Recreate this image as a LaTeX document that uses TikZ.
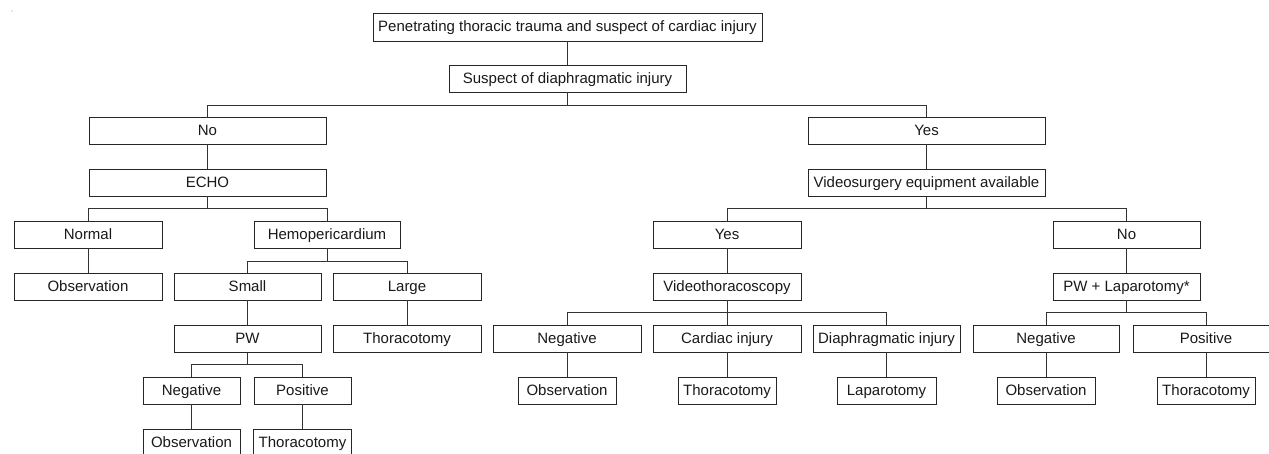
\documentclass[tikz,border=0pt]{standalone}
\usepackage{fontspec}
\setmainfont{Liberation Sans}
\begin{document}
\begin{tikzpicture}[x=1pt,y=-1pt,
  box/.style={draw=black!85, line width=0.9pt, inner sep=0pt, minimum height=27pt,
    text height=12pt, text depth=2.6pt,
    font=\fontsize{15}{18}\selectfont, text=black!90},
  link/.style={draw=black!80, line width=0.9pt}]
\useasboundingbox (0,0) rectangle (1269,453);
\fill[black!40] (12,11) circle (0.7);
% top
\node[box, minimum width=389pt, minimum height=28pt] (top) at (567.5,27) {Penetrating thoracic trauma and suspect of cardiac injury};
\node[box, minimum width=237pt] (susp) at (567.5,78.5) {Suspect of diaphragmatic injury};
\node[box, minimum width=237pt] (no) at (207.5,130.5) {No};
\node[box, minimum width=237pt] (yes) at (926.5,130.5) {Yes};
\node[box, minimum width=237pt] (echo) at (207.5,182.5) {ECHO};
\node[box, minimum width=237pt] (vea) at (926.5,183) {Videosurgery equipment available};
% left branch
\node[box, minimum width=148pt] (normal) at (88,234.5) {Normal};
\node[box, minimum width=146pt] (hemo) at (327,234.5) {Hemopericardium};
\node[box, minimum width=148pt] (obs1) at (88,286.5) {Observation};
\node[box, minimum width=147pt] (small) at (247.5,286.5) {Small};
\node[box, minimum width=148pt] (large) at (407,286.5) {Large};
\node[box, minimum width=147pt] (pw) at (247.5,339) {PW};
\node[box, minimum width=148pt] (thor1) at (407,339) {Thoracotomy};
\node[box, minimum width=97pt] (neg1) at (191.5,390.5) {Negative};
\node[box, minimum width=97pt] (pos1) at (302.5,390.5) {Positive};
\node[box, minimum width=97pt] (obs2) at (191.5,442.5) {Observation};
\node[box, minimum width=98pt] (thor2) at (302.5,442.5) {Thoracotomy};
% right branch
\node[box, minimum width=148pt] (yes2) at (727,234.5) {Yes};
\node[box, minimum width=147pt] (no2) at (1126.5,234.5) {No};
\node[box, minimum width=148pt] (vt) at (727,286.5) {Videothoracoscopy};
\node[box, minimum width=147pt] (pwlap) at (1126.5,286.5) {PW + Laparotomy*};
\node[box, minimum width=148pt] (neg2) at (567,338.5) {Negative};
\node[box, minimum width=148pt] (card) at (727,338.5) {Cardiac injury};
\node[box, minimum width=147pt] (diaph) at (886.5,338.5) {Diaphragmatic injury};
\node[box, minimum width=146pt] (neg3) at (1046,339) {Negative};
\node[box, minimum width=146pt] (pos3) at (1206,339) {Positive};
\node[box, minimum width=98pt] (obs3) at (567,390.5) {Observation};
\node[box, minimum width=98pt] (thor3) at (727,390.5) {Thoracotomy};
\node[box, minimum width=99pt] (lap) at (886.5,390.5) {Laparotomy};
\node[box, minimum width=98pt] (obs4) at (1046,390.5) {Observation};
\node[box, minimum width=98pt] (thor4) at (1206,390.5) {Thoracotomy};
% connectors
\draw[link] (top.south) -- (susp.north);
\draw[link] (susp.south) -- (susp.south |- 0,105) -| (no.north);
\draw[link] (susp.south |- 0,105) -| (yes.north);
\draw[link] (no.south) -- (echo.north);
\draw[link] (yes.south) -- (vea.north);
\draw[link] (echo.south) -- (echo.south |- 0,208) -| (normal.north);
\draw[link] (echo.south |- 0,208) -| (hemo.north);
\draw[link] (normal.south) -- (obs1.north);
\draw[link] (hemo.south) -- (hemo.south |- 0,261) -| (small.north);
\draw[link] (hemo.south |- 0,261) -| (large.north);
\draw[link] (small.south) -- (pw.north);
\draw[link] (large.south) -- (thor1.north);
\draw[link] (pw.south) -- (pw.south |- 0,364) -| (neg1.north);
\draw[link] (pw.south |- 0,364) -| (pos1.north);
\draw[link] (neg1.south) -- (obs2.north);
\draw[link] (pos1.south) -- (thor2.north);
\draw[link] (vea.south) -- (vea.south |- 0,208.5) -| (yes2.north);
\draw[link] (vea.south |- 0,208.5) -| (no2.north);
\draw[link] (yes2.south) -- (vt.north);
\draw[link] (no2.south) -- (pwlap.north);
\draw[link] (vt.south) -- (vt.south |- 0,312.5) -| (neg2.north);
\draw[link] (vt.south |- 0,312.5) -| (diaph.north);
\draw[link] (vt.south) -- (card.north);
\draw[link] (pwlap.south) -- (pwlap.south |- 0,312.5) -| (neg3.north);
\draw[link] (pwlap.south |- 0,312.5) -| (pos3.north);
\draw[link] (neg2.south) -- (obs3.north);
\draw[link] (card.south) -- (thor3.north);
\draw[link] (diaph.south) -- (lap.north);
\draw[link] (neg3.south) -- (obs4.north);
\draw[link] (pos3.south) -- (thor4.north);
\end{tikzpicture}
\end{document}
